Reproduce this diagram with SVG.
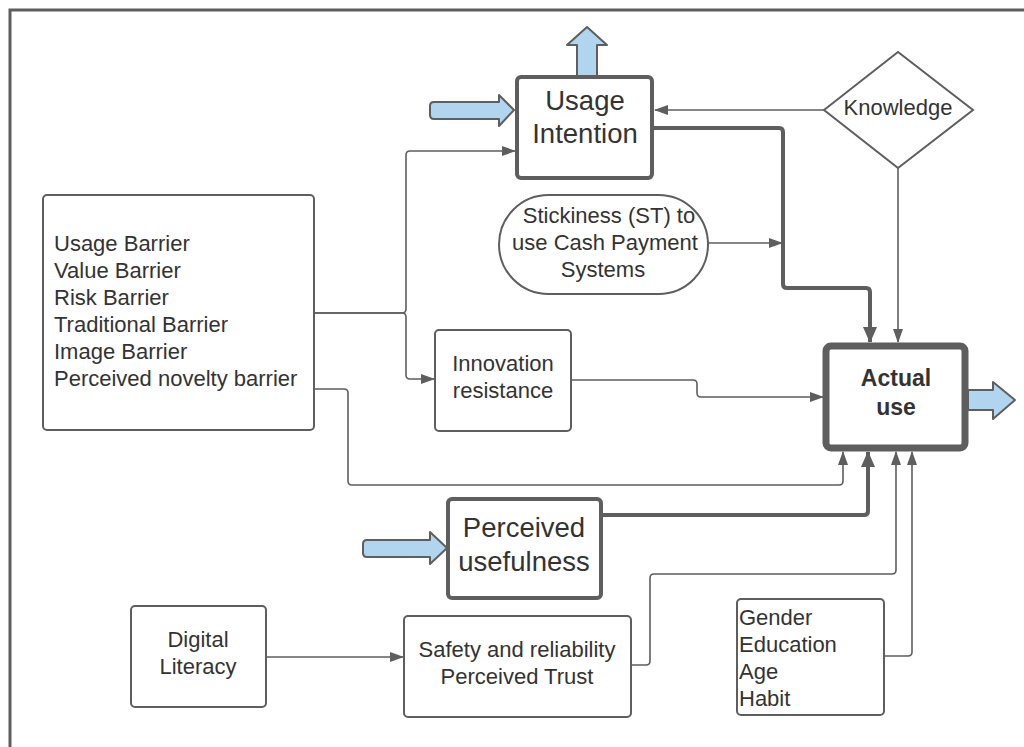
<svg xmlns="http://www.w3.org/2000/svg" width="1024" height="747" viewBox="0 0 1024 747">
<style>
.box{fill:#fff;stroke:#5e5e5e;stroke-width:2}
.thick{fill:#fff;stroke:#5e5e5e;stroke-width:4}
.heavy{fill:#fff;stroke:#5e5e5e;stroke-width:7}
.blue{fill:#b1d5ee;stroke:#5e5e5e;stroke-width:2;stroke-linejoin:round}
.t{font-family:"Liberation Sans",Arial,sans-serif;fill:#333;font-size:22px}
.c{text-anchor:middle}
.big{font-size:27.5px}
.b{font-weight:bold;font-size:23px}
.ln{fill:none;stroke:#5e5e5e;stroke-width:1.6;stroke-linejoin:round}
.lnt{fill:none;stroke:#5e5e5e;stroke-width:4;stroke-linejoin:round}
</style>
<defs>
<marker id="a" markerUnits="userSpaceOnUse" markerWidth="14" markerHeight="10" refX="13" refY="5" orient="auto">
<path d="M0,0 L14,5 L0,10 Z" fill="#5e5e5e"/>
</marker>
<marker id="at" markerUnits="userSpaceOnUse" markerWidth="16" markerHeight="14" refX="15" refY="7" orient="auto">
<path d="M0,0 L16,7 L0,14 Z" fill="#5e5e5e"/>
</marker>
</defs>
<rect width="1024" height="747" fill="#fff"/>
<rect x="10" y="10" width="1030" height="760" fill="none" stroke="#5e5e5e" stroke-width="3"/>

<g id="connectors">
<path class="ln" d="M314,313 H402 Q406,313 406,309 V155 Q406,151 410,151 H515" marker-end="url(#a)"/>
<path class="ln" d="M314,313 H402 Q406,313 406,317 V375 Q406,379 410,379 H434" marker-end="url(#a)"/>
<path class="ln" d="M314,389 H344 Q348,389 348,393 V481 Q348,485 352,485 H839 Q843,485 843,481 V452" marker-end="url(#a)"/>
<path class="ln" d="M571,380 H693 Q697,380 697,384 V393 Q697,397 701,397 H823" marker-end="url(#a)"/>
<path class="ln" d="M824,110 H655" marker-end="url(#a)"/>
<path class="ln" d="M898,168 V342" marker-end="url(#a)"/>
<path class="ln" d="M708,243 H782" marker-end="url(#a)"/>
<path class="lnt" d="M654,128 H779 Q783,128 783,132 V284 Q783,288 787,288 H866 Q870,288 870,292 V342" marker-end="url(#at)"/>
<path class="lnt" d="M601,515 H864 Q868,515 868,511 V452" marker-end="url(#at)"/>
<path class="ln" d="M631,665 H646 Q650,665 650,661 V578 Q650,574 654,574 H892 Q896,574 896,570 V452" marker-end="url(#a)"/>
<path class="ln" d="M884,656 H908 Q912,656 912,652 V452" marker-end="url(#a)"/>
<path class="ln" d="M266,657 H403" marker-end="url(#a)"/>
</g>

<g id="usage-intention">
<path class="blue" d="M577,77 V45 H567 L587,27 L607,45 H597 V77 Z"/>
<path class="blue" d="M434,102 H499 V95 L514,110 L499,126 V119 H434 Q430,119 430,115 V106 Q430,102 434,102 Z"/>
<rect class="thick" x="517" y="77" width="135" height="101" rx="4"/>
<text class="t c big" x="585" y="110">Usage</text>
<text class="t c big" x="585" y="143">Intention</text>
</g>

<g id="knowledge">
<path class="box" d="M824,110 L898,52 L973,110 L898,168 Z"/>
<text class="t c" x="898" y="115">Knowledge</text>
</g>

<g id="stickiness">
<rect class="box" x="499" y="195" width="209" height="99" rx="49.5"/>
<text class="t c" x="609" y="223">Stickiness (ST) to</text>
<text class="t c" x="605" y="250">use Cash Payment</text>
<text class="t c" x="603" y="277">Systems</text>
</g>

<g id="barriers">
<rect class="box" x="43" y="195" width="271" height="235" rx="4"/>
<text class="t" x="54" y="251">Usage Barrier</text>
<text class="t" x="54" y="278">Value Barrier</text>
<text class="t" x="54" y="305">Risk Barrier</text>
<text class="t" x="54" y="332">Traditional Barrier</text>
<text class="t" x="54" y="359">Image Barrier</text>
<text class="t" x="54" y="386">Perceived novelty barrier</text>
</g>

<g id="innovation-resistance">
<rect class="box" x="435" y="330" width="136" height="101" rx="4"/>
<text class="t c" x="503" y="371">Innovation</text>
<text class="t c" x="503" y="398">resistance</text>
</g>

<g id="actual-use">
<rect class="heavy" x="826" y="346" width="139" height="102" rx="5"/>
<text class="t c b" x="896" y="386">Actual</text>
<text class="t c b" x="896" y="415">use</text>
<path class="blue" d="M968,390 H993 V382 L1015,400 L993,419 V410 H968 Z"/>
</g>

<g id="perceived-usefulness">
<path class="blue" d="M367,540 H430 V532 L447,548 L430,564 V557 H367 Q363,557 363,553 V544 Q363,540 367,540 Z"/>
<rect class="thick" x="448" y="499" width="153" height="99" rx="4"/>
<text class="t c big" x="524" y="537">Perceived</text>
<text class="t c big" x="524" y="571">usefulness</text>
</g>

<g id="digital-literacy">
<rect class="box" x="131" y="606" width="135" height="101" rx="4"/>
<text class="t c" x="198" y="647">Digital</text>
<text class="t c" x="198" y="674">Literacy</text>
</g>

<g id="safety">
<rect class="box" x="404" y="616" width="227" height="101" rx="4"/>
<text class="t c" x="517" y="657">Safety and reliability</text>
<text class="t c" x="517" y="684">Perceived Trust</text>
</g>

<g id="demographics">
<rect class="box" x="737" y="599" width="147" height="116" rx="4"/>
<text class="t" x="739" y="625">Gender</text>
<text class="t" x="739" y="652">Education</text>
<text class="t" x="739" y="679">Age</text>
<text class="t" x="739" y="706">Habit</text>
</g>
</svg>
